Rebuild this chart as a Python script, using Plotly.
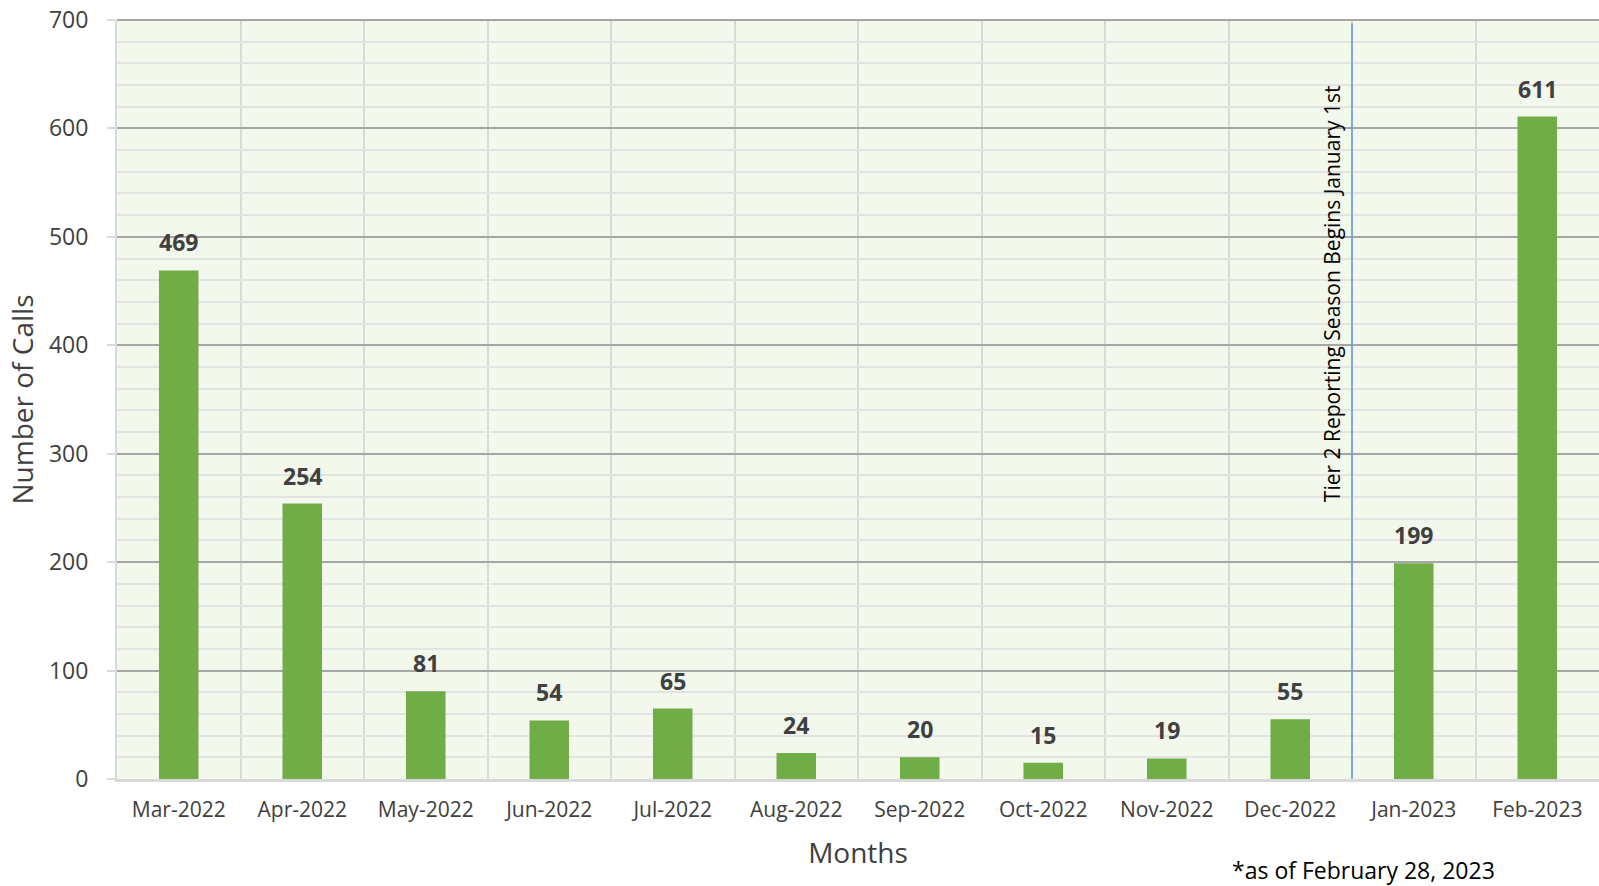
import plotly.graph_objects as go

months = ["Mar-2022", "Apr-2022", "May-2022", "Jun-2022", "Jul-2022", "Aug-2022",
          "Sep-2022", "Oct-2022", "Nov-2022", "Dec-2022", "Jan-2023", "Feb-2023"]
calls = [469, 254, 81, 54, 65, 24, 20, 15, 19, 55, 199, 611]
y_ticks = [0, 100, 200, 300, 400, 500, 600, 700]

FONT = "Open Sans"
x_pos = list(range(len(months)))

W, H = 1599, 886
L, T, B, R = 117, 20, 107, 0
plot_w = W - L - R
plot_h = H - T - B

fig = go.Figure()
fig.add_trace(go.Bar(
    x=x_pos, y=calls,
    marker=dict(color="#70ad47", line=dict(width=0)),
    width=0.32, hoverinfo="x+y",
))

for xi, v in zip(x_pos, calls):
    fig.add_annotation(
        x=xi, y=v, xref="x", yref="y", text=str(v), showarrow=False,
        yanchor="bottom", yshift=10,
        font=dict(family=FONT, size=23, color="#404040", weight="bold"),
    )

fig.update_layout(
    width=W, height=H,
    margin=dict(l=L, r=R, t=T, b=B, autoexpand=False),
    paper_bgcolor="white", plot_bgcolor="#f3f8ed",
    showlegend=False,
    font=dict(family=FONT, color="#404040"),
)
fig.update_xaxes(
    range=[-0.5, 11.5], tickmode="array", tickvals=x_pos, ticktext=months,
    showgrid=False, tickfont=dict(size=21, color="#404040"),
    minor=dict(tick0=0.5, dtick=1, showgrid=True, gridcolor="#d9d9d9", gridwidth=1.5),
    showline=True, linecolor="#d9d9d9", linewidth=3, ticks="", zeroline=False,
    ticklabelstandoff=10,
    title=dict(text="Months", font=dict(size=28, color="#404040"), standoff=22),
)
fig.update_yaxes(
    range=[0, 700], tickmode="array", tickvals=y_ticks,
    showgrid=True, gridcolor="#a6a6a6", gridwidth=2,
    minor=dict(dtick=20, showgrid=True, gridcolor="#e3e3e3", gridwidth=1.5),
    ticks="outside", ticklen=8, tickcolor="#d9d9d9", tickwidth=1.5,
    showline=True, linecolor="#d9d9d9", linewidth=2, zeroline=False,
    ticklabelstandoff=14, ticklabeloverflow="allow",
    tickfont=dict(size=23, color="#404040"),
    title=dict(text="Number of Calls", font=dict(size=28, color="#404040"), standoff=7),
)

fig.add_shape(type="line", xref="paper", yref="paper", x0=0, x1=1, y0=1, y1=1,
              line=dict(color="#a6a6a6", width=2))
fig.add_shape(type="line", xref="x", yref="y", x0=9.5, x1=9.5, y0=0, y1=697,
              line=dict(color="#5b9bd5", width=1.5))
fig.add_annotation(
    x=9.5, y=253, xref="x", yref="y", xanchor="right", yanchor="bottom",
    xshift=-4, text="Tier 2 Reporting Season Begins January 1st", textangle=-90,
    showarrow=False, font=dict(family=FONT, size=21, color="#000000"),
)
fig.add_annotation(
    x=(1363 - L) / plot_w, y=-(870 - (H - B)) / plot_h, xref="paper", yref="paper",
    xanchor="center", yanchor="middle", text="*as of February 28, 2023",
    showarrow=False, font=dict(family=FONT, size=23, color="#000000"),
)

fig.write_html("out.html", config={"displayModeBar": False},
               post_script="document.body.style.margin='0';")
